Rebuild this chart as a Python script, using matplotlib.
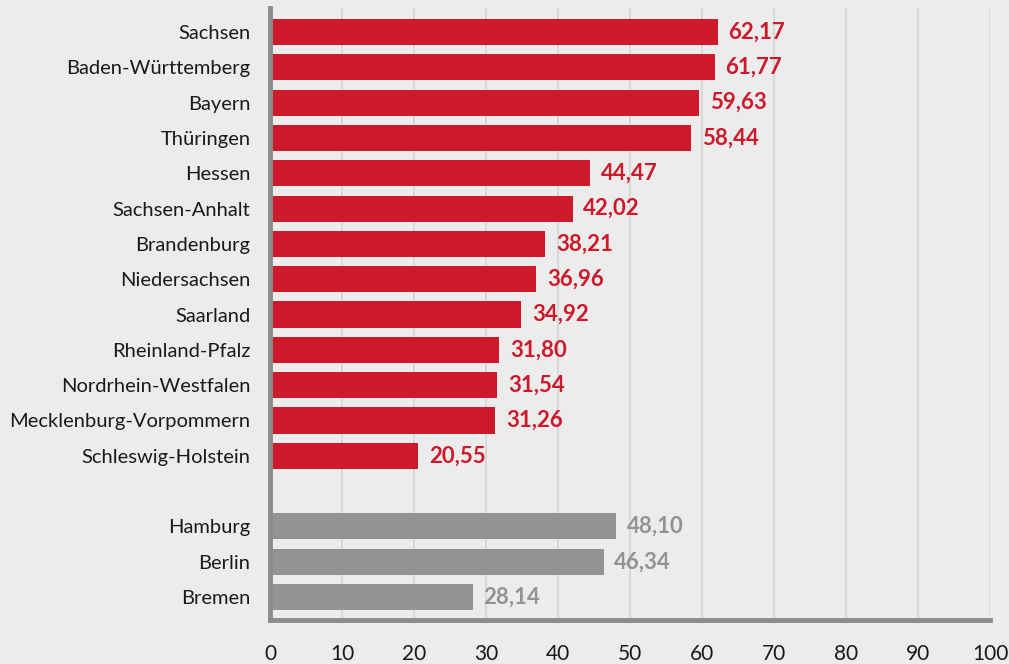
import matplotlib
matplotlib.use('Agg')
import matplotlib.pyplot as plt

laender = ['Sachsen', 'Baden-Württemberg', 'Bayern', 'Thüringen', 'Hessen',
           'Sachsen-Anhalt', 'Brandenburg', 'Niedersachsen', 'Saarland',
           'Rheinland-Pfalz', 'Nordrhein-Westfalen', 'Mecklenburg-Vorpommern',
           'Schleswig-Holstein']
werte_laender = [62.17, 61.77, 59.63, 58.44, 44.47, 42.02, 38.21, 36.96, 34.92,
                 31.80, 31.54, 31.26, 20.55]
stadtstaaten = ['Hamburg', 'Berlin', 'Bremen']
werte_stadt = [48.10, 46.34, 28.14]
x_ticks = [0, 10, 20, 30, 40, 50, 60, 70, 80, 90, 100]

red = '#cc1a2b'
grey = '#939393'
bg = '#ececec'

plt.rcParams['font.family'] = ['Lato', 'DejaVu Sans']

fig = plt.figure(figsize=(10.09, 6.64), dpi=100, facecolor=bg)
ax = fig.add_axes([270 / 1009, 44 / 664, 720 / 1009, 612 / 664], facecolor=bg)

pos_l = list(range(len(laender)))
pos_s = [len(laender) + 1 + i for i in range(len(stadtstaaten))]

ax.barh(pos_l, werte_laender, height=0.74, color=red, zorder=3)
ax.barh(pos_s, werte_stadt, height=0.74, color=grey, zorder=3)

def fmt(v):
    return f'{v:.2f}'.replace('.', ',')

for p, v in zip(pos_l, werte_laender):
    ax.text(v + 1.5, p, fmt(v), va='center', ha='left', color=red,
            fontsize=16, fontweight='bold', zorder=4)
for p, v in zip(pos_s, werte_stadt):
    ax.text(v + 1.5, p, fmt(v), va='center', ha='left', color=grey,
            fontsize=16, fontweight='bold', zorder=4)

ax.set_yticks(pos_l + pos_s)
ax.set_yticklabels(laender + stadtstaaten, fontsize=14.5, color='#1a1a1a')
ax.set_xticks(x_ticks)
ax.set_xticklabels([str(t) for t in x_ticks], fontsize=15, color='#1a1a1a')
ax.set_xlim(0, 100)
ax.set_ylim(16.65, -0.68)

ax.grid(axis='x', color='#d6d6d6', linewidth=1.3, zorder=0)
ax.tick_params(axis='both', length=0)
ax.tick_params(axis='x', pad=17)
ax.tick_params(axis='y', pad=14)

for s in ['top', 'right']:
    ax.spines[s].set_visible(False)
for s in ['left', 'bottom']:
    ax.spines[s].set_color('#8c8c8c')
    ax.spines[s].set_linewidth(3.5)
    ax.spines[s].set_zorder(5)

fig.savefig('out.png', dpi=100, facecolor=bg)
